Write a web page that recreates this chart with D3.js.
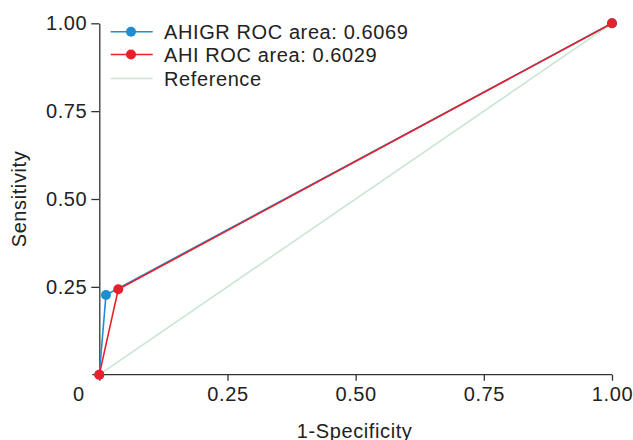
<!DOCTYPE html>
<meta charset="utf-8">
<head>
<style>
  body { margin: 0; background: #fff; }
  svg { font-family: "Liberation Sans", Arial, sans-serif; letter-spacing: 0.6px; }
  .axis path, .axis line { stroke: #333; stroke-width: 1.3px; fill: none; }
  .axis text { font-size: 20px; fill: #222; }
</style>
</head>
<body>
<div id="graph"></div>
<script src="https://d3js.org/d3.v7.min.js"></script>
<script>

// ROC points (1-specificity, sensitivity)
var ahigrFpr = [0, 0.013, 1];
var ahigrTpr = [0, 0.227, 1];
var ahiFpr = [0, 0.037, 1];
var ahiTpr = [0, 0.243, 1];
var refFpr = [0, 1];
var refTpr = [0, 1];

var tickValues = [0, 0.25, 0.5, 0.75, 1];
var tickLabels = ["0", "0.25", "0.50", "0.75", "1.00"];
var legendLabels = ["AHIGR ROC area: 0.6069", "AHI ROC area: 0.6029", "Reference"];

var W = 633, H = 440;
var margin = {left: 99.3, right: 21, top: 23.3, bottom: 65.3};

var svg = d3.select("#graph").append("svg")
  .attr("width", W)
  .attr("height", H);

var x = d3.scaleLinear().domain([0, 1]).range([margin.left, W - margin.right]);
var y = d3.scaleLinear().domain([0, 1]).range([H - margin.bottom, margin.top]);

// axes
var xAxis = d3.axisBottom(x).tickValues(tickValues)
  .tickFormat(function(d, i){ return tickLabels[i]; })
  .tickSizeInner(6).tickSizeOuter(0).tickPadding(6);
var yAxis = d3.axisLeft(y).tickValues(tickValues.slice(1))
  .tickFormat(function(d, i){ return tickLabels[i + 1]; })
  .tickSizeInner(8).tickSizeOuter(0).tickPadding(4);

var gx = svg.append("g").attr("class", "axis")
  .attr("transform", "translate(0," + y(0) + ")")
  .call(xAxis);
gx.select(".domain").attr("d", "M" + (x(0) - 7) + ",0H" + x(1));
gx.selectAll(".tick text").filter(function(d){ return d === 0; })
  .attr("dx", -21);

var gy = svg.append("g").attr("class", "axis")
  .attr("transform", "translate(" + x(0) + ",0)")
  .call(yAxis);

// axis titles
svg.append("text")
  .attr("x", (x(0) + x(1)) / 2 - 1)
  .attr("y", 438)
  .attr("text-anchor", "middle")
  .style("font-size", "20px").style("fill", "#222")
  .text("1-Specificity");

svg.append("text")
  .attr("transform", "translate(26," + ((y(0) + y(1)) / 2) + ") rotate(-90)")
  .attr("text-anchor", "middle")
  .style("font-size", "20px").style("fill", "#222")
  .text("Sensitivity");

var line = d3.line().x(function(d){ return x(d[0]); }).y(function(d){ return y(d[1]); });

var series = [
  {fpr: refFpr, tpr: refTpr, color: "#c9e6d3", dots: false},
  {fpr: ahigrFpr, tpr: ahigrTpr, color: "#1b8fd2", dots: true},
  {fpr: ahiFpr, tpr: ahiTpr, color: "#e8202b", dots: true}
];

series.forEach(function(s){
  var pts = d3.zip(s.fpr, s.tpr);
  svg.append("path")
    .datum(pts)
    .attr("fill", "none")
    .attr("stroke", s.color)
    .attr("stroke-width", 1.6)
    .attr("d", line);
  if (s.dots) {
    svg.selectAll(null).data(pts).enter().append("circle")
      .attr("cx", function(d){ return x(d[0]); })
      .attr("cy", function(d){ return y(d[1]); })
      .attr("r", 5)
      .attr("fill", s.color);
  }
});

// legend
var legendColors = ["#1b8fd2", "#e8202b", "#c9e6d3"];
var legendY = [31.7, 54.5, 78.5];
var lg = svg.append("g");
legendLabels.forEach(function(lab, i){
  lg.append("line")
    .attr("x1", 110.7).attr("x2", 152.7)
    .attr("y1", legendY[i]).attr("y2", legendY[i])
    .attr("stroke", legendColors[i]).attr("stroke-width", 1.6);
  if (i < 2) {
    lg.append("circle").attr("cx", 131).attr("cy", legendY[i]).attr("r", 5)
      .attr("fill", legendColors[i]);
  }
  lg.append("text")
    .attr("x", 164).attr("y", legendY[i])
    .attr("dy", "0.35em")
    .style("font-size", "20px").style("fill", "#222")
    .text(lab);
});

</script>
</body>
